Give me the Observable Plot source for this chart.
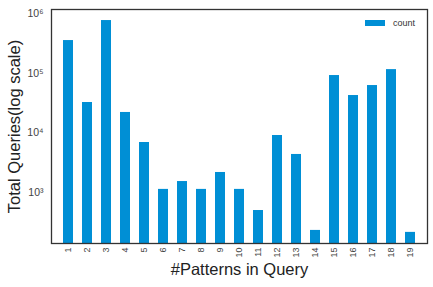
<!DOCTYPE html>
<html>
<head>
<meta charset="utf-8">
<script src="https://cdn.jsdelivr.net/npm/d3@7"></script>
<script src="https://cdn.jsdelivr.net/npm/@observablehq/plot@0.6"></script>
<style>
  html, body { margin: 0; padding: 0; background: #fff; }
  #wrap { position: relative; width: 433px; height: 287px; }
  #legend { position: absolute; left: 365px; top: 18px; font: 9px "Liberation Sans", Arial, sans-serif; color: #333; display: flex; align-items: center; }
  #legend .sw { width: 20px; height: 6px; background: #008fd5; margin-right: 8px; }
</style>
</head>
<body>
<div id="wrap"><div id="legend"><span class="sw"></span><span>count</span></div></div>
<script>
const patterns = ["1","2","3","4","5","6","7","8","9","10","11","12","13","14","15","16","17","18","19"];
const counts = [353000, 32300, 764000, 22000, 6900, 1130, 1530, 1130, 2170, 1130, 500, 9040, 4350, 232, 91500, 42300, 62200, 115000, 215];
const yTicks = [1e3, 1e4, 1e5, 1e6];
const sup = {"0":"⁰","1":"¹","2":"²","3":"³","4":"⁴","5":"⁵","6":"⁶","7":"⁷","8":"⁸","9":"⁹"};

const data = patterns.map((p, i) => ({p, c: counts[i]}));

const chart = Plot.plot({
  width: 433,
  height: 287,
  marginLeft: 51,
  marginTop: 9,
  marginRight: 6,
  marginBottom: 44,
  style: {fontFamily: "'Liberation Sans', Arial, sans-serif", fontSize: "9px", color: "#444", background: "#fff"},
  x: {type: "band", domain: patterns, paddingInner: 0.5, paddingOuter: 0.25},
  y: {type: "log", domain: [140, 1.17e6]},
  marks: [
    Plot.barY(data, {x: "p", y1: 140, y2: "c", fill: "#008fd5"}),
    Plot.axisY({ticks: yTicks, tickSize: 0, tickPadding: 8, label: null, fontSize: 10.5,
      tickFormat: d => "10" + String(Math.round(Math.log10(d))).split("").map(c => sup[c]).join("")}),
    Plot.axisX({tickSize: 0, tickPadding: 4, tickRotate: -90, label: null, fontSize: 9}),
    Plot.frame({stroke: "#333", strokeWidth: 1.3}),
    Plot.text(["Total Queries(log scale)"], {frameAnchor: "left", rotate: -90, dx: -37, fontSize: 16.5, fill: "#222", textAnchor: "middle"}),
    Plot.text(["#Patterns in Query"], {frameAnchor: "bottom", dy: 31, fontSize: 16.5, fill: "#222", textAnchor: "middle"})
  ]
});
document.getElementById("wrap").prepend(chart);
</script>
</body>
</html>
